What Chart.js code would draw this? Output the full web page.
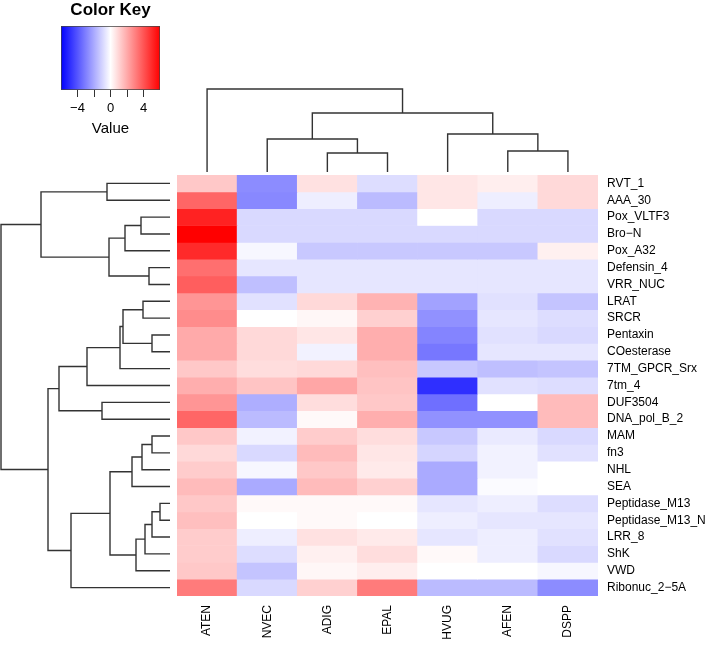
<!DOCTYPE html>
<html>
<head>
<meta charset="utf-8">
<script src="https://cdn.jsdelivr.net/npm/chart.js@4.4.1/dist/chart.umd.min.js"></script>
<style>
  html, body { margin: 0; padding: 0; background: #fff; }
  body { width: 709px; height: 649px; position: relative; overflow: hidden; }
  canvas { position: absolute; }
</style>
</head>
<body>
<canvas id="key" width="200" height="140" style="left:0;top:0"></canvas>
<canvas id="colDendro" width="421" height="95" style="left:177px;top:80px"></canvas>
<canvas id="rowDendro" width="177" height="421" style="left:0;top:175px"></canvas>
<canvas id="heat" width="532" height="474" style="left:177px;top:175px"></canvas>
<script>
// ---------------- DATA ----------------
const columns = ['ATEN', 'NVEC', 'ADIG', 'EPAL', 'HVUG', 'AFEN', 'DSPP'];
const rows = ['RVT_1', 'AAA_30', 'Pox_VLTF3', 'Bro\u2212N', 'Pox_A32', 'Defensin_4', 'VRR_NUC',
  'LRAT', 'SRCR', 'Pentaxin', 'COesterase', '7TM_GPCR_Srx', '7tm_4', 'DUF3504', 'DNA_pol_B_2',
  'MAM', 'fn3', 'NHL', 'SEA', 'Peptidase_M13', 'Peptidase_M13_N', 'LRR_8', 'ShK', 'VWD', 'Ribonuc_2\u22125A'];

const ATEN = [1.3, 3.6, 5.2, 6.0, 5.0, 3.4, 3.8, 2.5, 2.7, 2.0, 2.0, 1.3, 1.9, 2.5, 3.6, 1.3, 0.9, 1.2, 1.6, 1.3, 1.5, 1.2, 1.2, 1.3, 3.1];
const NVEC = [-2.7, -2.8, -0.9, -0.9, -0.2, -0.6, -1.5, -0.7, 0, 0.9, 0.9, 0.8, 1.4, -1.9, -1.6, -0.3, -0.9, -0.2, -2.0, 0.15, 0, -0.4, -0.8, -1.4, -0.9];
const ADIG = [0.7, -0.4, -0.9, -0.9, -1.3, -0.6, -0.6, 0.9, 0.2, 0.6, -0.3, 0.9, 2.1, 0.8, 0.15, 1.2, 1.6, 1.3, 1.6, 0.15, 0.15, 0.7, 0.35, 0.2, 1.1];
const EPAL = [-0.8, -1.6, -0.9, -0.9, -1.3, -0.6, -0.6, 1.8, 1.1, 1.9, 1.9, 1.5, 1.4, 1.3, 1.9, 0.8, 0.6, 0.5, 1.1, 0.15, 0, 0.5, 0.8, 0.4, 3.1];
const HVUG = [0.6, 0.6, 0, -0.9, -1.3, -0.6, -0.6, -2.2, -2.6, -2.9, -3.2, -1.3, -4.9, -3.4, -2.6, -1.3, -1.0, -2.0, -2.0, -0.6, -0.4, -0.6, 0.15, 0, -1.6];
const AFEN = [0.4, -0.4, -0.9, -0.9, -1.3, -0.6, -0.6, -0.7, -0.6, -0.7, -0.6, -1.5, -0.7, 0, -2.6, -0.5, -0.3, -0.3, -0.1, -0.4, -0.6, -0.4, -0.4, 0, -1.6];
const DSPP = [0.9, 0.9, -0.9, -0.9, 0.35, -0.6, -0.6, -1.4, -0.8, -0.9, -0.6, -1.4, -0.8, 1.6, 1.6, -0.9, -0.7, 0, 0, -0.8, -0.6, -0.7, -0.9, -0.2, -2.7];

// Row dendrogram (hclust-style merges: negative = leaf number, positive = earlier merge)
const rowMergeLeft   = [-1, -3, 2, -6, 3, 1, -8, -10, 7, 9, 10, -14, 11, -16, 14, 15, -20, 17, 18, 19, 16, 21, 13, 6];
const rowMergeRight  = [-2, -4, -5, -7, 4, 5, -9, -11, 8, -12, -13, -15, 12, -17, -18, -19, -21, -22, -23, -24, 20, -25, 22, 23];
const rowMergeHeight = [6.3, 2.9, 4.5, 2.1, 6.1, 12.9, 2.7, 1.8, 4.7, 5.0, 8.3, 6.8, 11.1, 1.8, 2.8, 3.8, 1.0, 1.8, 2.5, 3.4, 6.0, 9.9, 12.2, 16.9];

// Column dendrogram
const colMergeLeft   = [-3, -2, -6, -5, 2, -1];
const colMergeRight  = [-4, 1, -7, 3, 4, 5];
const colMergeHeight = [1.9, 3.3, 2.1, 3.8, 5.9, 8.3];

// Color key
const keyRange = [-6, 6];
const keyTicks = [-4, -2, 0, 2, 4];
const keyTickLabels = ['\u22124', '', '0', '', '4'];

// ---------------- HELPERS ----------------
const FONT = "'Liberation Sans', Arial, Helvetica, sans-serif";
Chart.defaults.font.family = FONT;
Chart.defaults.color = '#000';
Chart.defaults.animation = false;

const valueCols = [ATEN, NVEC, ADIG, EPAL, HVUG, AFEN, DSPP];

function colorFor(v) {
  const t = Math.min(1, Math.abs(v) / keyRange[1]);
  const c = Math.round(255 * (1 - t));
  return v >= 0 ? `rgb(255,${c},${c})` : `rgb(${c},${c},255)`;
}

function dendroSegments(left, right, heights, leafPos) {
  const pos = [], h = [], segs = [];
  const P = r => r < 0 ? leafPos(-r - 1) : pos[r - 1];
  const H = r => r < 0 ? 0 : h[r - 1];
  for (let k = 0; k < left.length; k++) {
    const a = left[k], b = right[k], hk = heights[k];
    segs.push([[H(a), P(a)], [hk, P(a)], [hk, P(b)], [H(b), P(b)]]);
    pos.push((P(a) + P(b)) / 2);
    h.push(hk);
  }
  return segs;
}

const lineStyle = { showLine: true, pointRadius: 0, borderColor: '#333', borderWidth: 1.4, tension: 0, clip: false, fill: false };
const noPad = s => { s.paddingTop = 0; s.paddingBottom = 0; s.paddingLeft = 0; s.paddingRight = 0; };

// ---------------- HEATMAP ----------------
new Chart(document.getElementById('heat'), {
  type: 'bar',
  data: {
    labels: columns,
    datasets: rows.map((r, i) => ({
      label: r,
      data: columns.map(() => [i, i + 1]),
      backgroundColor: valueCols.map(col => colorFor(col[i])),
      borderWidth: 0,
      barPercentage: 1,
      categoryPercentage: 1,
      grouped: false
    }))
  },
  options: {
    responsive: false,
    devicePixelRatio: 1,
    layout: { padding: 0 },
    plugins: { legend: { display: false }, tooltip: { enabled: false } },
    scales: {
      x: {
        type: 'category',
        offset: true,
        grid: { display: false, drawTicks: false },
        border: { display: false },
        ticks: { autoSkip: false, minRotation: 90, maxRotation: 90, padding: 9, font: { size: 12 } },
        afterFit: s => { s.height = 53; noPad(s); }
      },
      y: {
        type: 'linear',
        position: 'right',
        min: 0, max: rows.length,
        reverse: true,
        grid: { display: false, drawTicks: false },
        border: { display: false },
        afterBuildTicks: s => { s.ticks = rows.map((_, i) => ({ value: i + 0.5 })); },
        ticks: { autoSkip: false, padding: 9, font: { size: 12 }, callback: (v, i) => rows[i] },
        afterFit: s => { s.width = 111; noPad(s); }
      }
    }
  }
});

// ---------------- ROW DENDROGRAM ----------------
const rowSegs = dendroSegments(rowMergeLeft, rowMergeRight, rowMergeHeight, i => i + 0.5);
new Chart(document.getElementById('rowDendro'), {
  type: 'scatter',
  data: { datasets: rowSegs.map(s => Object.assign({ data: s.map(p => ({ x: p[0], y: p[1] })) }, lineStyle)) },
  options: {
    responsive: false, devicePixelRatio: 1,
    layout: { padding: { left: 1, right: 7, top: 0, bottom: 0 } },
    plugins: { legend: { display: false }, tooltip: { enabled: false } },
    scales: {
      x: { type: 'linear', display: false, min: 0, max: Math.max(...rowMergeHeight), reverse: true },
      y: { type: 'linear', display: false, min: 0, max: rows.length, reverse: true }
    }
  }
});

// ---------------- COLUMN DENDROGRAM ----------------
const colSegs = dendroSegments(colMergeLeft, colMergeRight, colMergeHeight, j => j + 0.5);
new Chart(document.getElementById('colDendro'), {
  type: 'scatter',
  data: { datasets: colSegs.map(s => Object.assign({ data: s.map(p => ({ x: p[1], y: p[0] })) }, lineStyle)) },
  options: {
    responsive: false, devicePixelRatio: 1,
    layout: { padding: { left: 0, right: 0, top: 9, bottom: 3 } },
    plugins: { legend: { display: false }, tooltip: { enabled: false } },
    scales: {
      x: { type: 'linear', display: false, min: 0, max: columns.length },
      y: { type: 'linear', display: false, min: 0, max: Math.max(...colMergeHeight) }
    }
  }
});

// ---------------- COLOR KEY ----------------
new Chart(document.getElementById('key'), {
  type: 'bar',
  data: {
    labels: ['key'],
    datasets: [{
      data: [keyRange],
      barPercentage: 1, categoryPercentage: 1,
      borderWidth: 1, borderColor: '#444', borderSkipped: false,
      backgroundColor: ctx => {
        const area = ctx.chart.chartArea;
        if (!area) return '#fff';
        const g = ctx.chart.ctx.createLinearGradient(area.left, 0, area.right, 0);
        g.addColorStop(0, 'rgb(0,0,255)');
        g.addColorStop(0.5, 'rgb(255,255,255)');
        g.addColorStop(1, 'rgb(255,0,0)');
        return g;
      }
    }]
  },
  options: {
    indexAxis: 'y',
    responsive: false, devicePixelRatio: 1,
    layout: { padding: { left: 61, right: 40, top: 0, bottom: 0 } },
    plugins: {
      legend: { display: false }, tooltip: { enabled: false },
      title: { display: true, text: 'Color Key', font: { size: 17, weight: 'bold' }, color: '#000', padding: { top: 0, bottom: 5.6 } }
    },
    scales: {
      y: { display: false },
      x: {
        type: 'linear', min: keyRange[0], max: keyRange[1],
        grid: { display: true, drawOnChartArea: false, drawTicks: true, tickLength: 7, color: '#333', lineWidth: 1 },
        border: { display: false },
        afterBuildTicks: s => { s.ticks = keyTicks.map(v => ({ value: v })); },
        ticks: { padding: 4, font: { size: 13 }, color: '#000', callback: (v, i) => keyTickLabels[i] },
        title: { display: true, text: 'Value', font: { size: 15 }, color: '#000', padding: { top: 0, bottom: 2 } },
        afterFit: s => { s.height = 50; noPad(s); }
      }
    }
  }
});
</script>
</body>
</html>
